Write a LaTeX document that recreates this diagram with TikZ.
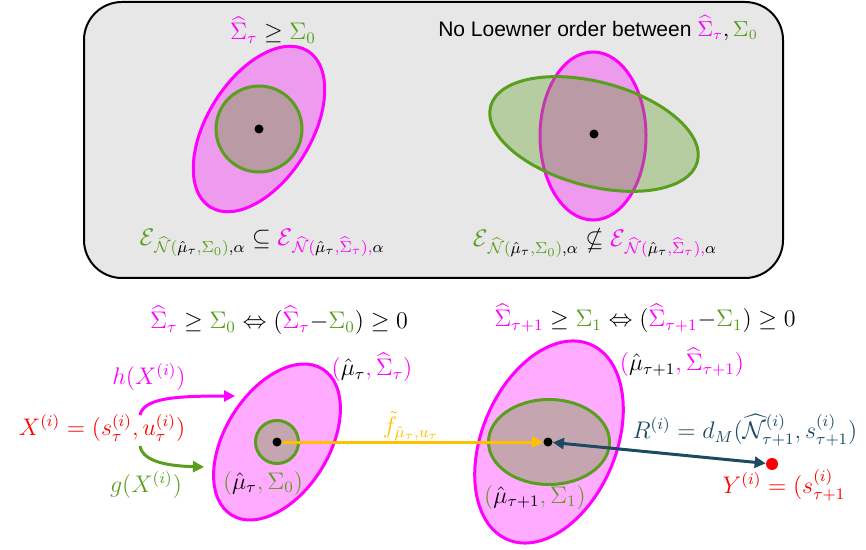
\documentclass[tikz,border=0pt]{standalone}
\usepackage{amsmath,amssymb}
\usepackage{fontspec}
\usepackage{xcolor}
\usepackage{tikz}
\usetikzlibrary{arrows.meta}
\newfontfamily\notefont{Liberation Sans}
\definecolor{magpink}{HTML}{FF00FF}
\definecolor{covgreen}{HTML}{5A9E1E}
\definecolor{flowyellow}{HTML}{FFC000}
\definecolor{resblue}{HTML}{1B4A62}
\definecolor{boxgray}{HTML}{E7E7E7}
\newcommand{\Shat}{\widehat{\Sigma}}
\newcommand{\Nhat}{\widehat{\mathcal{N}}}
\newcommand{\muhat}{\hat{\mu}}

\begin{document}
\begin{tikzpicture}[x=0.5pt, y=-0.5pt,
    every node/.style={inner sep=0pt, font=\fontsize{11.5}{14}\selectfont},
    covsig/.style={draw=magpink, fill=magpink, fill opacity=0.33, line width=1.5pt},
    covzero/.style={draw=covgreen, fill=covgreen, fill opacity=0.35, line width=1.5pt},
    dotnode/.style={circle, fill=black, minimum size=4.5pt},
    flow/.style={->, line width=1.5pt},
  ]
\tikzset{>={Triangle[length=5.5pt, width=5.5pt]}}
  \useasboundingbox (0,0) rectangle (866,550);
  \draw[fill=boxgray, line width=1pt, rounded corners=19pt] (84,2) rectangle (783,278);

  \draw[covsig, shift={(259,129)}, rotate=58] (0,0) ellipse [x radius=92, y radius=52];
  \draw[covzero] (259,129) circle [radius=43];
  \draw[covsig, shift={(593,136)}] (0,0) ellipse [x radius=53, y radius=84];
  \draw[covzero, shift={(594,134)}, rotate=-15] (0,0) ellipse [x radius=107, y radius=52];
  \node[dotnode] (ctrA) at (259,129) {};
  \node[dotnode] (ctrB) at (594,134) {};

  \node (orderA) at (273,30) {$\textcolor{magpink}{\Shat_\tau} \geq \textcolor{covgreen}{\Sigma_0}$};
  \node (orderB) at (598,28) {\notefont\fontsize{10.5}{13}\selectfont No Loewner order between $\textcolor{magpink}{\Shat_\tau}, \textcolor{covgreen}{\Sigma_0}$};
  \node (setA) at (262,243) {$\textcolor{covgreen}{\mathcal{E}}_{\textcolor{covgreen}{\Nhat(}\muhat_\tau\textcolor{covgreen}{,\Sigma_0)},\alpha} \subseteq \textcolor{magpink}{\mathcal{E}}_{\textcolor{magpink}{\Nhat(}\muhat_\tau\textcolor{magpink}{,\Shat_\tau),}\alpha}$};
  \node (setB) at (595,243) {$\textcolor{covgreen}{\mathcal{E}}_{\textcolor{covgreen}{\Nhat(}\muhat_\tau\textcolor{covgreen}{,\Sigma_0)},\alpha} \nsubseteq \textcolor{magpink}{\mathcal{E}}_{\textcolor{magpink}{\Nhat(}\muhat_\tau\textcolor{magpink}{,\Shat_\tau),}\alpha}$};

  \draw[covsig, shift={(277,442)}, rotate=58] (0,0) ellipse [x radius=86, y radius=52];
  \draw[covzero] (277,442) circle [radius=21.5];
  \draw[covsig, shift={(549,442)}, rotate=67] (0,0) ellipse [x radius=106, y radius=67];
  \draw[covzero] (549,442) ellipse [x radius=60.5, y radius=42.5];
  \node[dotnode] (mu0) at (277,442) {};
  \node[dotnode] (mu1) at (548,442) {};
  \node[circle, fill=red, minimum size=6pt] (ydot) at (772,464) {};

  \node (lmiA) at (279,320) {$\textcolor{magpink}{\Shat_\tau} \geq \textcolor{covgreen}{\Sigma_0} \Leftrightarrow (\textcolor{magpink}{\Shat_\tau}{-}\textcolor{covgreen}{\Sigma_0}) \geq 0$};
  \node (lmiB) at (645,318) {$\textcolor{magpink}{\Shat_{\tau+1}} \geq \textcolor{covgreen}{\Sigma_1} \Leftrightarrow (\textcolor{magpink}{\Shat_{\tau+1}}{-}\textcolor{covgreen}{\Sigma_1}) \geq 0$};
  \node (predA) at (372,367) {$\textcolor{magpink}{(}\muhat_\tau\textcolor{magpink}{, \Shat_\tau)}$};
  \node (nomA) at (263,483) {$\textcolor{covgreen}{(}\muhat_\tau\textcolor{covgreen}{, \Sigma_0)}$};
  \node (predB) at (682,362) {$\textcolor{magpink}{(}\muhat_{\tau+1}\textcolor{magpink}{, \Shat_{\tau+1})}$};
  \node (nomB) at (535,497) {$\textcolor{covgreen}{(}\muhat_{\tau+1}\textcolor{covgreen}{, \Sigma_1)}$};
  \node[text=red] (xin) at (102,428) {$X^{(i)} = (s^{(i)}_\tau, u^{(i)}_\tau)$};
  \node[text=magpink] (hmap) at (149,377) {$h(X^{(i)})$};
  \node[text=covgreen] (gmap) at (146,485) {$g(X^{(i)})$};
  \node[text=flowyellow] (fdyn) at (411,426) {$\tilde{f}_{\muhat_\tau,u_\tau}$};
  \node[text=resblue] (resid) at (745,430) {$R^{(i)} = d_M(\Nhat^{(i)}_{\tau+1}, s^{(i)}_{\tau+1})$};
  \node[text=red] (yout) at (784,485) {$Y^{(i)} = (s^{(i)}_{\tau+1}$};

  \coordinate (hfrom) at (140,415);
  \coordinate (hto) at (235,396);
  \coordinate (gfrom) at (140,446);
  \coordinate (gto) at (204,467);

  \draw[flow, magpink] (hfrom) .. controls (144,398) and (175,396) .. (hto);
  \draw[flow, covgreen] (gfrom) .. controls (143,463) and (172,466) .. (gto);
  \draw[flow, flowyellow] (mu0) -- (mu1);
  \draw[flow, <->, resblue] (mu1) -- (ydot);
\end{tikzpicture}
\end{document}
